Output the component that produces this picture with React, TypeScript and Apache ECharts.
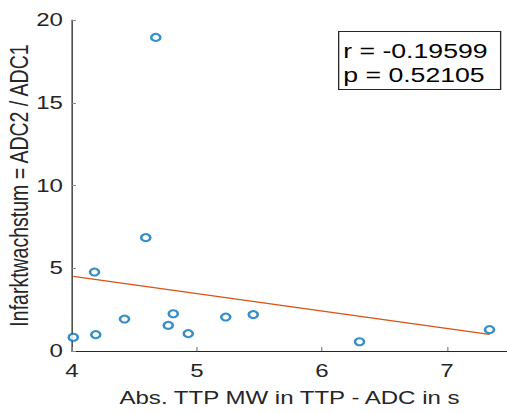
import React, { useEffect, useRef } from "react";
import * as echarts from "echarts";

const xValues = [4.01, 4.18, 4.19, 4.42, 4.59, 4.67, 4.77, 4.81, 4.93, 5.23, 5.45, 6.3, 7.34];
const yValues = [0.83, 4.77, 0.99, 1.93, 6.85, 18.95, 1.55, 2.25, 1.05, 2.05, 2.2, 0.56, 1.29];
const statLines = ["r = -0.19599", "p = 0.52105"];
const xName = "Abs. TTP MW in TTP - ADC in s";
const yName = "Infarktwachstum = ADC2 / ADC1";

const FONT = "'Liberation Sans', Arial, Helvetica, sans-serif";
const TXT = "#262626";
const STRETCH = 1.3;

function fit(xs: number[], ys: number[]) {
  const n = xs.length;
  const mx = xs.reduce((a, b) => a + b, 0) / n;
  const my = ys.reduce((a, b) => a + b, 0) / n;
  let sxy = 0, sxx = 0;
  for (let i = 0; i < n; i++) {
    sxy += (xs[i] - mx) * (ys[i] - my);
    sxx += (xs[i] - mx) * (xs[i] - mx);
  }
  const b = sxy / sxx;
  const a = my - b * mx;
  return { a, b };
}

export default function App() {
  const ref = useRef<HTMLDivElement>(null);
  useEffect(() => {
    if (!ref.current) return;
    const chart = echarts.init(ref.current, undefined, { renderer: "svg" });
    const { a, b } = fit(xValues, yValues);
    const x0 = Math.min(...xValues);
    const x1 = Math.max(...xValues);
    const lineData = [
      [x0, a + b * x0],
      [x1, a + b * x1],
    ];
    chart.setOption({
      animation: false,
      backgroundColor: "#ffffff",
      grid: { left: 55.4, right: 0, top: 20, bottom: 62, containLabel: false, outerBoundsMode: "none" },
      xAxis: {
        type: "value",
        min: 4,
        max: 7.48,
        interval: 1,
        name: xName,
        nameLocation: "middle",
        nameGap: 37,
        nameMoveOverlap: false,
        nameTextStyle: { fontFamily: FONT, fontSize: 18.5, color: TXT },
        axisLine: { show: true, onZero: false, lineStyle: { color: TXT, width: 1 } },
        axisTick: { show: true, inside: true, length: 4, lineStyle: { color: "#8a8a8a" } },
        axisLabel: { fontFamily: FONT, fontSize: 18.5, color: TXT, margin: 10, showMaxLabel: false },
        splitLine: { show: false },
      },
      yAxis: {
        type: "value",
        min: 0,
        max: 20,
        interval: 5,
        name: yName,
        nameLocation: "middle",
        nameGap: 30,
        nameRotate: 90,
        nameMoveOverlap: false,
        nameTextStyle: { fontFamily: FONT, fontSize: 19.5, color: TXT },
        axisLine: { show: true, onZero: false, lineStyle: { color: TXT, width: 1 } },
        axisTick: { show: true, inside: true, length: 3, lineStyle: { color: "#8a8a8a" } },
        axisLabel: { fontFamily: FONT, fontSize: 18.5, color: TXT, margin: 7 },
        splitLine: { show: false },
      },
      series: [
        {
          type: "line",
          data: lineData,
          showSymbol: false,
          symbol: "none",
          lineStyle: { color: "#D95319", width: 1.3 },
          z: 2,
        },
        {
          type: "scatter",
          data: xValues.map((x, i) => [x, yValues[i]]),
          symbol: "emptyCircle",
          symbolSize: 7,
          itemStyle: { color: "#0072BD", borderColor: "#0072BD", borderWidth: 1 },
          z: 3,
        },
      ],
      graphic: [
        {
          type: "group",
          left: 260,
          top: 31,
          children: [
            {
              type: "rect",
              shape: { x: 0, y: 0, width: 124.6, height: 58 },
              style: { fill: "#ffffff", stroke: TXT, lineWidth: 1 },
            },
            {
              type: "text",
              x: 3.5,
              y: 19,
              style: {
                text: statLines[0],
                fontFamily: FONT,
                fontSize: 20.5,
                fill: "#000000",
                verticalAlign: "middle",
                align: "left",
              },
            },
            {
              type: "text",
              x: 3.5,
              y: 43,
              style: {
                text: statLines[1],
                fontFamily: FONT,
                fontSize: 20.5,
                fill: "#000000",
                verticalAlign: "middle",
                align: "left",
              },
            },
          ],
        },
      ],
    });
    return () => chart.dispose();
  }, []);
  return (
    <div
      ref={ref}
      style={{
        position: "absolute",
        left: 0,
        top: 0,
        width: 507 / STRETCH,
        height: 413,
        transform: `scaleX(${STRETCH})`,
        transformOrigin: "0 0",
      }}
    />
  );
}
